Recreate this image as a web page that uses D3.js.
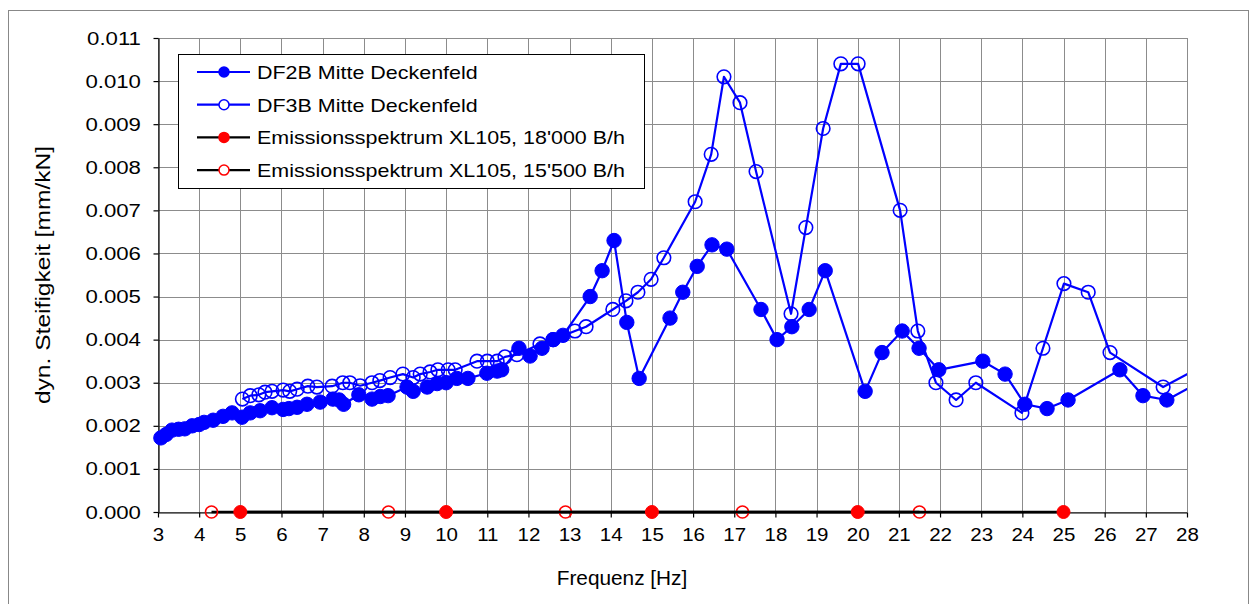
<!DOCTYPE html>
<html>
<head>
<meta charset="utf-8">
<script src="https://cdn.jsdelivr.net/npm/d3@7"></script>
<style>
  body { margin: 0; background: #fff; }
  svg { font-family: "Liberation Sans", Arial, sans-serif; }
</style>
</head>
<body>
<svg id="chart" width="1254" height="604"></svg>
<script>
// DF2B Mitte Deckenfeld (filled markers)
const df2bFreq = [3.07, 3.20, 3.34, 3.50, 3.65, 3.83, 4.00, 4.12, 4.34, 4.58, 4.80, 5.04, 5.24, 5.48, 5.77,
  6.04, 6.18, 6.38, 6.62, 6.94, 7.25, 7.40, 7.51, 7.88, 8.20, 8.40, 8.59, 9.05, 9.20, 9.54, 9.78, 10.0,
  10.26, 10.53, 10.99, 11.24, 11.35, 11.77, 12.04, 12.33, 12.60, 12.84, 13.50, 13.79, 14.08, 14.39, 14.69,
  15.44, 15.75, 16.10, 16.46, 16.82, 17.65, 18.04, 18.40, 18.82, 19.21, 20.18, 20.59, 21.08, 21.49, 21.97,
  23.04, 23.58, 24.06, 24.60, 25.11, 26.37, 26.93, 27.51, 28.20];
const df2bVal = [0.00172, 0.00180, 0.00190, 0.00192, 0.00193, 0.00200, 0.00203, 0.00208, 0.00213, 0.00222, 0.00230, 0.00220, 0.00230, 0.00235, 0.00242,
  0.00238, 0.00240, 0.00243, 0.00250, 0.00255, 0.00262, 0.00260, 0.00250, 0.00272, 0.00262, 0.00268, 0.00270, 0.00290, 0.00280, 0.00290, 0.00298, 0.00300,
  0.00310, 0.00310, 0.00322, 0.00327, 0.00330, 0.00380, 0.00362, 0.00380, 0.00400, 0.00410, 0.00500, 0.00560, 0.00630, 0.00440, 0.00310,
  0.00450, 0.00510, 0.00570, 0.00620, 0.00610, 0.00470, 0.00400, 0.00430, 0.00470, 0.00560, 0.00280, 0.00370, 0.00420, 0.00380, 0.00330,
  0.00350, 0.00320, 0.00250, 0.00240, 0.00260, 0.00330, 0.00270, 0.00260, 0.00296];

// DF3B Mitte Deckenfeld (open markers)
const df3bFreq = [5.05, 5.24, 5.45, 5.60, 5.77, 6.04, 6.20, 6.38, 6.64, 6.86, 7.23, 7.49, 7.66, 7.91, 8.20, 8.39,
  8.64, 8.95, 9.20, 9.37, 9.61, 9.80, 10.05, 10.22, 10.75, 11.00, 11.24, 11.43, 11.72, 12.28, 12.60, 13.13,
  13.40, 14.05, 14.37, 14.66, 14.98, 15.29, 16.05, 16.44, 16.75, 17.14, 17.53, 18.38, 18.74, 19.16, 19.59,
  20.01, 21.03, 21.46, 21.90, 22.39, 22.87, 23.99, 24.50, 25.01, 25.60, 26.13, 27.42, 28.10];
const df3bVal = [0.00262, 0.00270, 0.00272, 0.00278, 0.00280, 0.00283, 0.00280, 0.00285, 0.00292, 0.00290, 0.00292, 0.00300, 0.00300, 0.00293, 0.00300, 0.00305,
  0.00312, 0.00320, 0.00312, 0.00320, 0.00325, 0.00330, 0.00330, 0.00330, 0.00350, 0.00350, 0.00350, 0.00360, 0.00365, 0.00390, 0.00400, 0.00420,
  0.00430, 0.00470, 0.00490, 0.00510, 0.00540, 0.00590, 0.00720, 0.00830, 0.01010, 0.00950, 0.00790, 0.00460, 0.00660, 0.00890, 0.01040,
  0.01040, 0.00700, 0.00420, 0.00300, 0.00260, 0.00300, 0.00230, 0.00380, 0.00530, 0.00510, 0.00370, 0.00290, 0.00325];

// Emissionsspektren
const em18000Freq = [5, 10, 15, 20, 25];
const em18000Val = [0, 0, 0, 0, 0];
const em15500Freq = [4.3, 8.6, 12.9, 17.2, 21.5];
const em15500Val = [0, 0, 0, 0, 0];

const xTicks = d3.range(3, 29, 1);
const yTicks = d3.range(0, 0.0115, 0.001);

const legendLabels = ["DF2B Mitte Deckenfeld", "DF3B Mitte Deckenfeld",
  "Emissionsspektrum XL105, 18'000 B/h", "Emissionsspektrum XL105, 15'500 B/h"];

const svg = d3.select("#chart");
const margin = { top: 38, right: 67, bottom: 92, left: 158 };
const width = +svg.attr("width");
const height = +svg.attr("height");

// outer chart frame
svg.append("rect")
  .attr("x", 8.5).attr("y", 10.5)
  .attr("width", 1240).attr("height", 610)
  .attr("fill", "#fff").attr("stroke", "#888").attr("stroke-width", 1);

const x = d3.scaleLinear().domain([3, 28]).range([margin.left, width - margin.right]);
const y = d3.scaleLinear().domain([0, 0.011]).range([height - margin.bottom, margin.top]);

// grid
svg.append("g").selectAll("line")
  .data(yTicks)
  .enter().append("line")
  .attr("x1", x(3)).attr("x2", x(28))
  .attr("y1", d => Math.round(y(d)) + 0.5).attr("y2", d => Math.round(y(d)) + 0.5)
  .attr("stroke", "#8c8c8c").attr("stroke-width", 1);

svg.append("g").selectAll("line")
  .data(xTicks)
  .enter().append("line")
  .attr("x1", d => Math.round(x(d)) + 0.5).attr("x2", d => Math.round(x(d)) + 0.5)
  .attr("y1", y(0.011)).attr("y2", y(0))
  .attr("stroke", "#8c8c8c").attr("stroke-width", 1);

// axes
const yAxis = svg.append("g")
  .attr("transform", `translate(${Math.round(x(3)) + 0.5},0)`)
  .call(d3.axisLeft(y).tickValues(yTicks).tickFormat(d3.format(".3f")).tickSizeInner(5).tickSizeOuter(0).tickPadding(10));
const xAxis = svg.append("g")
  .attr("transform", `translate(0,${Math.round(y(0)) + 0.5})`)
  .call(d3.axisBottom(x).tickValues(xTicks).tickFormat(d3.format("d")).tickSizeInner(5).tickSizeOuter(0).tickPadding(10));

[xAxis, yAxis].forEach(a => {
  a.selectAll("path, line").attr("stroke", "#000").attr("stroke-width", 1.2);
  a.selectAll("text").attr("font-size", 19).attr("fill", "#000")
    .attr("font-family", "Liberation Sans, Arial, sans-serif");
});
yAxis.selectAll("text").attr("transform", "scale(1.17,1)");
xAxis.selectAll("text").attr("transform", "scale(1.08,1)");

// axis titles
svg.append("text")
  .attr("transform", "translate(622,585) scale(1.04,1)")
  .attr("text-anchor", "middle").attr("font-size", 20)
  .text("Frequenz [Hz]");
svg.append("text")
  .attr("transform", `translate(50,${(y(0) + y(0.011)) / 2}) rotate(-90) scale(1.23,1)`)
  .attr("text-anchor", "middle").attr("font-size", 20)
  .text("dyn. Steifigkeit [mm/kN]");

// series
svg.append("clipPath").attr("id", "plotclip")
  .append("rect").attr("x", x(3) - 10).attr("y", y(0.011) - 10)
  .attr("width", x(28) - x(3) + 10).attr("height", y(0) - y(0.011) + 20);

const plot = svg.append("g").attr("clip-path", "url(#plotclip)");
const line = d3.line().x(d => x(d[0])).y(d => y(d[1]));

function drawSeries(freq, vals, lineColor, lineWidth, markColor, filled, r) {
  const pts = freq.map((f, i) => [f, vals[i]]);
  plot.append("path").datum(pts)
    .attr("d", line)
    .attr("fill", "none").attr("stroke", lineColor).attr("stroke-width", lineWidth)
    .attr("stroke-linejoin", "round");
  plot.append("g").selectAll("circle")
    .data(pts.filter(d => d[0] <= 28))
    .enter().append("circle")
    .attr("cx", d => x(d[0])).attr("cy", d => y(d[1]))
    .attr("r", r)
    .attr("fill", filled ? markColor : "none")
    .attr("stroke", markColor).attr("stroke-width", filled ? 1 : 1.6);
}

drawSeries(em15500Freq, em15500Val, "#000", 2.5, "#ff0000", false, 6);
drawSeries(em18000Freq, em18000Val, "#000", 2.5, "#ff0000", true, 6.5);
drawSeries(df3bFreq, df3bVal, "#0000ff", 2.2, "#0000ff", false, 6.8);
drawSeries(df2bFreq, df2bVal, "#0000ff", 2.2, "#0000ff", true, 7.2);

// legend
const legend = svg.append("g");
legend.append("rect")
  .attr("x", 178.5).attr("y", 54.5).attr("width", 466).attr("height", 134)
  .attr("fill", "#fff").attr("stroke", "#000").attr("stroke-width", 1);

const legendStyle = [
  { line: "#0000ff", mark: "#0000ff", filled: true },
  { line: "#0000ff", mark: "#0000ff", filled: false },
  { line: "#000", mark: "#ff0000", filled: true },
  { line: "#000", mark: "#ff0000", filled: false }
];
legendLabels.forEach((label, i) => {
  const ly = 72 + i * 32.7;
  const s = legendStyle[i];
  legend.append("line")
    .attr("x1", 197).attr("x2", 250).attr("y1", ly).attr("y2", ly)
    .attr("stroke", s.line).attr("stroke-width", 2.2);
  legend.append("circle")
    .attr("cx", 224).attr("cy", ly).attr("r", 5)
    .attr("fill", s.filled ? s.mark : "#fff")
    .attr("stroke", s.mark).attr("stroke-width", 1.5);
  legend.append("text")
    .attr("transform", `translate(257,${ly + 7}) scale(1.13,1)`)
    .attr("font-size", 19)
    .text(label);
});
</script>
</body>
</html>
